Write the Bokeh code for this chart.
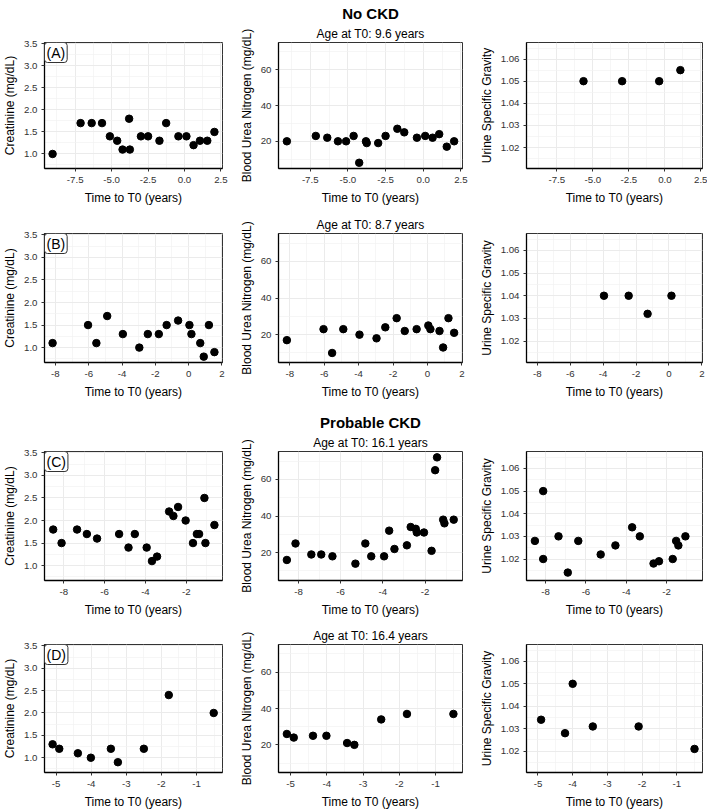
from bokeh.plotting import figure
from bokeh.layouts import column, row
from bokeh.models import Range1d, FixedTicker, PrintfTickFormatter, Label, Title
from bokeh.embed import file_html
from bokeh.resources import INLINE

FONT = "Liberation Sans"

# ---------------- data ----------------
# Row A: No CKD, age at T0 9.6 years
a_t = [-9.05, -7.13, -6.37, -5.66, -5.12, -4.62, -4.25, -3.80, -3.75, -2.99,
       -2.50, -1.72, -1.26, -0.42, 0.13, 0.62, 1.06, 1.56, 2.05]
a_cr = [1.0, 1.7, 1.7, 1.7, 1.4, 1.3, 1.1, 1.8, 1.1, 1.4, 1.4, 1.3, 1.7, 1.4,
        1.4, 1.2, 1.3, 1.3, 1.5]
a_bun = [20, 23, 22, 20, 20, 23, 8, 20, 19, 19, 23, 27, 25, 22, 23, 22, 24, 17, 20]
a_usg_t = [-5.65, -2.97, -0.40, 1.07]
a_usg = [1.050, 1.050, 1.050, 1.055]

# Row B: No CKD, age at T0 8.7 years
b_t = [-8.17, -6.04, -5.54, -4.89, -3.95, -2.96, -2.45, -1.79, -1.32, -0.63,
       0.05, 0.17, 0.70, 0.91, 1.22, 1.55]
b_cr = [1.1, 1.5, 1.1, 1.7, 1.3, 1.0, 1.3, 1.3, 1.5, 1.6, 1.5, 1.3, 1.1, 0.8, 1.5, 0.9]
b_bun = [17, 23, 10, 23, 20, 18, 24, 29, 22, 23, 25, 23, 22, 13, 29, 21]
b_usg_t = [-3.95, -2.45, -1.30, 0.15]
b_usg = [1.040, 1.040, 1.032, 1.040]

# Row C: Probable CKD, age at T0 16.1 years
c_cr_t = [-8.52, -8.11, -7.35, -6.87, -6.37, -5.29, -4.83, -4.52, -3.94, -3.68,
          -3.43, -2.84, -2.63, -2.40, -2.03, -1.67, -1.48, -1.37, -1.11, -1.06, -0.62]
c_cr = [1.8, 1.5, 1.8, 1.7, 1.6, 1.7, 1.4, 1.7, 1.4, 1.1, 1.2, 2.2, 2.1, 2.3, 2.0,
        1.5, 1.7, 1.7, 2.5, 1.5, 1.9]
c_bun_t = [-8.55, -8.14, -7.39, -6.92, -6.39, -5.30, -4.83, -4.55, -3.94, -3.70,
           -3.45, -2.86, -2.68, -2.44, -2.39, -2.05, -1.69, -1.52, -1.43, -1.14, -1.08, -0.64]
c_bun = [16, 25, 19, 19, 18, 14, 25, 18, 18, 32, 22, 24, 34, 33, 31, 31, 21, 65, 72, 38, 36, 38]
c_usg_t = [-8.53, -8.12, -8.12, -7.36, -6.90, -6.38, -5.27, -4.54, -3.71, -3.33,
           -2.65, -2.38, -1.70, -1.53, -1.42, -1.07]
c_usg = [1.028, 1.050, 1.020, 1.030, 1.014, 1.028, 1.022, 1.026, 1.034, 1.030,
         1.018, 1.019, 1.020, 1.028, 1.026, 1.030]

# Row D: Probable CKD, age at T0 16.4 years
d_t = [-5.10, -4.91, -4.38, -4.01, -3.44, -3.24, -2.50, -1.79, -0.51]
d_cr = [1.3, 1.2, 1.1, 1.0, 1.2, 0.9, 1.2, 2.4, 2.0]
d_bun = [26, 24, 25, 25, 21, 20, 34, 37, 37]
d_usg_t = [-4.91, -4.22, -4.00, -3.42, -2.10, -0.49]
d_usg = [1.034, 1.028, 1.050, 1.031, 1.031, 1.021]

# titles / labels
group_titles = ["No CKD", None, "Probable CKD", None]
age_titles = ["Age at T0: 9.6 years", "Age at T0: 8.7 years",
              "Age at T0: 16.1 years", "Age at T0: 16.4 years"]
panel_tags = ["(A)", "(B)", "(C)", "(D)"]
y_titles = ["Creatinine (mg/dL)", "Blood Urea Nitrogen (mg/dL)", "Urine Specific Gravity"]
x_title = "Time to T0 (years)"

# axis ticks
x_ticks = [[-7.5, -5.0, -2.5, 0.0, 2.5], [-8, -6, -4, -2, 0, 2], [-8, -6, -4, -2], [-5, -4, -3, -2, -1]]
x_minor = [[-8.75, -6.25, -3.75, -1.25, 1.25], [-9, -7, -5, -3, -1, 1], [-9, -7, -5, -3, -1],
           [-5.5, -4.5, -3.5, -2.5, -1.5, -0.5]]
x_fmt = ["%.1f", "%d", "%d", "%d"]
cr_ticks = [1.0, 1.5, 2.0, 2.5, 3.0, 3.5]
cr_minor = [0.75, 1.25, 1.75, 2.25, 2.75, 3.25]
bun_ticks = [20, 40, 60]
bun_minor = [10, 30, 50, 70]
usg_ticks = [1.02, 1.03, 1.04, 1.05, 1.06]
usg_minor = [1.015, 1.025, 1.035, 1.045, 1.055, 1.065]
cr_lim = (0.67, 3.53)
bun_lim = (4.8, 75.2)
usg_lim = (1.0105, 1.0675)

rows_data = [
    [(a_t, a_cr), (a_t, a_bun), (a_usg_t, a_usg)],
    [(b_t, b_cr), (b_t, b_bun), (b_usg_t, b_usg)],
    [(c_cr_t, c_cr), (c_bun_t, c_bun), (c_usg_t, c_usg)],
    [(d_t, d_cr), (d_t, d_bun), (d_usg_t, d_usg)],
]
y_cfg = [(cr_lim, cr_ticks, cr_minor, "%.1f"), (bun_lim, bun_ticks, bun_minor, "%d"),
         (usg_lim, usg_ticks, usg_minor, "%.2f")]

# ---------------- layout ----------------
COLS = [dict(left=41, frame=181, right=6), dict(left=50, frame=184, right=6),
        dict(left=58, frame=176, right=5)]
ROWS = [dict(top=40, frame=128, bottom=40), dict(top=25, frame=129, bottom=40),
        dict(top=49, frame=129, bottom=40), dict(top=24, frame=130, bottom=37)]


def xrange_for(rd):
    allx = [v for (xs, _) in rd for v in xs]
    lo, hi = min(allx), max(allx)
    d = (hi - lo) * 0.05
    return lo - d, hi + d


def make_panel(ri, ci):
    xs, ys = rows_data[ri][ci]
    col, rw = COLS[ci], ROWS[ri]
    xr = xrange_for(rows_data[ri])
    ylim, yt, ym, yf = y_cfg[ci]
    p = figure(width=col["left"] + col["frame"] + col["right"],
               height=rw["top"] + rw["frame"] + rw["bottom"],
               x_range=Range1d(*xr), y_range=Range1d(*ylim),
               output_backend="svg", toolbar_location=None, title=None,
               min_border_left=col["left"], min_border_right=col["right"],
               min_border_top=rw["top"], min_border_bottom=rw["bottom"])
    p.background_fill_color = "white"
    p.border_fill_color = "white"
    p.outline_line_color = "#333333"
    p.outline_line_width = 1

    p.xaxis.ticker = FixedTicker(ticks=x_ticks[ri], minor_ticks=x_minor[ri])
    p.yaxis.ticker = FixedTicker(ticks=yt, minor_ticks=ym)
    p.xaxis.formatter = PrintfTickFormatter(format=x_fmt[ri])
    p.yaxis.formatter = PrintfTickFormatter(format=yf)
    p.xaxis.axis_label = x_title
    p.yaxis.axis_label = y_titles[ci]
    for ax in (p.xaxis[0], p.yaxis[0]):
        ax.axis_line_color = "black"
        ax.axis_line_width = 1.3
        ax.major_tick_line_color = "#333333"
        ax.major_tick_out = 3
        ax.major_tick_in = 0
        ax.minor_tick_out = 0
        ax.minor_tick_in = 0
        ax.minor_tick_line_color = None
        ax.major_label_text_font = FONT
        ax.major_label_text_font_size = "9.7px"
        ax.major_label_text_color = "#333333"
        ax.axis_label_text_font = FONT
        ax.axis_label_text_font_size = "12px"
        ax.axis_label_text_font_style = "normal"
        ax.axis_label_text_color = "black"
    p.xaxis.major_label_standoff = 5
    p.xaxis.axis_label_standoff = 5
    p.yaxis.major_label_standoff = 4
    p.yaxis.axis_label_standoff = 4

    for g in (p.xgrid[0], p.ygrid[0]):
        g.grid_line_color = "#EBEBEB"
        g.grid_line_width = 1
        g.minor_grid_line_color = "#F2F2F2"
        g.minor_grid_line_width = 0.7

    p.scatter(xs, ys, size=7.5, color="black")

    if ci == 0:
        p.add_layout(Label(x=xr[0], y=ylim[1], text=panel_tags[ri], anchor="top_left",
                           text_font=FONT, text_font_size="14px", text_color="black",
                           background_fill_color="white", border_line_color="#333333",
                           border_line_width=1, border_radius=3, padding=2))
    if ci == 1:
        p.add_layout(Title(text=age_titles[ri], align="center", text_font=FONT,
                           text_font_size="12px", text_font_style="normal",
                           text_color="black", standoff=3), "above")
        if group_titles[ri]:
            p.add_layout(Title(text=group_titles[ri], align="center", text_font=FONT,
                               text_font_size="15px", text_font_style="bold",
                               text_color="black", standoff=4), "above")
    return p


grid_rows = [row([make_panel(ri, ci) for ci in range(3)], spacing=0) for ri in range(4)]
layout = column(grid_rows, spacing=0)

open("out.html", "w").write(file_html(layout, INLINE))
